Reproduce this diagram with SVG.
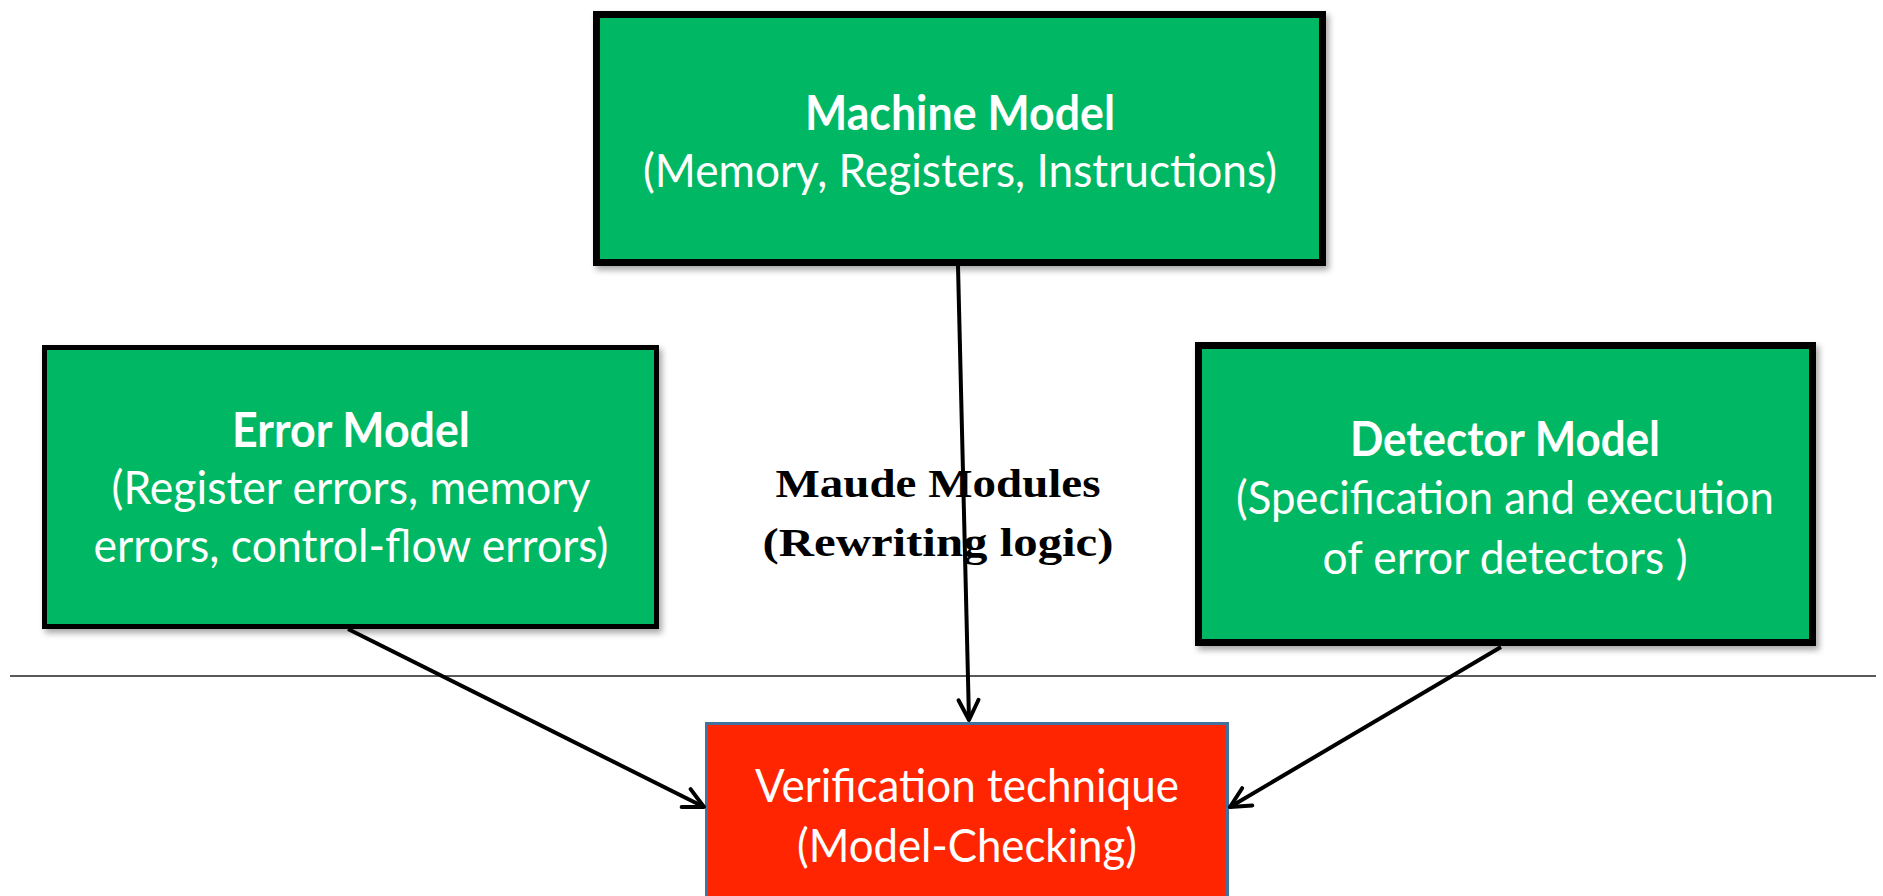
<svg xmlns="http://www.w3.org/2000/svg" width="1883" height="896" viewBox="0 0 1883 896">
<style>
.box{fill:#00B864;stroke:#000;}
.t{font-family:Lato,"Open Sans",sans-serif;fill:#fff;text-anchor:middle;font-size:47px;}
.b{font-weight:bold;}
.m{font-family:"Liberation Serif",serif;font-weight:bold;font-size:41px;fill:#000;text-anchor:middle;}
.c{stroke:#000;stroke-width:4;fill:none;}
</style>
<defs>
<filter id="sh" x="-5%" y="-5%" width="115%" height="115%">
<feDropShadow dx="3" dy="4" stdDeviation="3" flood-color="#000" flood-opacity="0.35"/>
</filter>
<marker id="ah" viewBox="0 0 26 26" refX="23" refY="13" markerWidth="26" markerHeight="26" markerUnits="userSpaceOnUse" orient="auto">
<path d="M3,3 L23,13 L3,23" fill="none" stroke="#000" stroke-width="4" stroke-linecap="round" stroke-linejoin="round"/>
</marker>
</defs>
<line x1="10" y1="676" x2="1876" y2="676" stroke="#222" stroke-width="1.5"/>
<g id="machine">
<rect class="box" x="596.5" y="14.5" width="726" height="248" stroke-width="7" filter="url(#sh)"/>
<text class="t b" x="960" y="130" textLength="310" lengthAdjust="spacingAndGlyphs">Machine Model</text>
<text class="t" x="960" y="187" textLength="634" lengthAdjust="spacingAndGlyphs">(Memory, Registers, Instructions)</text>
</g>
<g id="error">
<rect class="box" x="44.5" y="347.5" width="612" height="279" stroke-width="5" filter="url(#sh)"/>
<text class="t b" x="351" y="447" textLength="238" lengthAdjust="spacingAndGlyphs">Error Model</text>
<text class="t" x="351" y="504" textLength="479" lengthAdjust="spacingAndGlyphs">(Register errors, memory</text>
<text class="t" x="351" y="562" textLength="515" lengthAdjust="spacingAndGlyphs">errors, control-flow errors)</text>
</g>
<g id="detector">
<rect class="box" x="1198.5" y="345.5" width="614" height="297" stroke-width="7" filter="url(#sh)"/>
<text class="t b" x="1505" y="456" textLength="310" lengthAdjust="spacingAndGlyphs">Detector Model</text>
<text class="t" x="1505" y="514" textLength="538" lengthAdjust="spacingAndGlyphs">(Specification and execution</text>
<text class="t" x="1505" y="574" textLength="365" lengthAdjust="spacingAndGlyphs">of error detectors )</text>
</g>
<g id="verification">
<rect x="706.5" y="723.5" width="521" height="180" fill="#FF2500" stroke="#41719C" stroke-width="3"/>
<text class="t" x="967" y="802" textLength="424" lengthAdjust="spacingAndGlyphs">Verification technique</text>
<text class="t" x="967" y="862" textLength="340" lengthAdjust="spacingAndGlyphs">(Model-Checking)</text>
</g>
<g id="label">
<text class="m" x="938" y="497" textLength="325" lengthAdjust="spacingAndGlyphs">Maude Modules</text>
<text class="m" x="938" y="556" textLength="351" lengthAdjust="spacingAndGlyphs">(Rewriting logic)</text>
</g>
<g id="connectors">
<line class="c" x1="958" y1="266" x2="969" y2="720" marker-end="url(#ah)"/>
<line class="c" x1="348" y1="629" x2="704" y2="807" marker-end="url(#ah)"/>
<line class="c" x1="1501" y1="647" x2="1230" y2="807" marker-end="url(#ah)"/>
</g>
</svg>
